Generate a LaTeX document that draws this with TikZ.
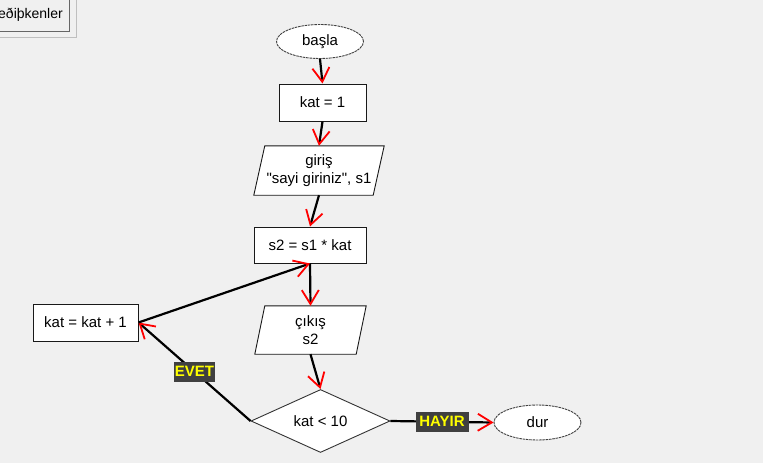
\documentclass[tikz,border=0pt]{standalone}
\usepackage{fontspec}
\setmainfont{Liberation Sans}[Ligatures=TeXOff]
\usetikzlibrary{shapes.geometric,arrows.meta,backgrounds}
\definecolor{pagebg}{HTML}{F0F0F0}
\definecolor{lblbg}{HTML}{404040}
\definecolor{lbltext}{HTML}{FFFF00}
\definecolor{tipred}{HTML}{FF0000}
\newcommand{\nfont}{\fontsize{15}{17.5}\selectfont}
\begin{document}
\begin{tikzpicture}[x=1pt,y=-1pt,
  procbox/.style={draw=black!90, line width=1pt, fill=white, inner sep=0pt, font=\nfont, align=center},
  iotext/.style={inner sep=0pt, font=\nfont, align=center},
  iobox/.style={draw=black!90, line width=0.9pt, fill=white},
  termnode/.style={ellipse, draw=black!75, dash pattern=on 2.5pt off 0.8pt, line width=0.9pt, fill=white, inner sep=0pt, minimum width=87pt, minimum height=34pt, font=\nfont},
  decision/.style={diamond, aspect=2.2, draw=black!80, line width=0.9pt, fill=white, inner sep=0pt, minimum width=139pt, minimum height=63pt, font=\nfont},
  flow/.style={draw=black, line width=2.2pt, -{Straight Barb[length=14pt,width=17pt,line width=1.8pt,color=tipred]}},
  lbl/.style={fill=lblbg, text=lbltext, font=\fontsize{15}{17}\selectfont\bfseries, inner xsep=0.5pt, inner ysep=0pt, minimum height=20pt}
]
\useasboundingbox (0,0) rectangle (763,463);
\begin{scope}[on background layer]
  \fill[pagebg] (0,0) rectangle (763,463);
\end{scope}

% button at top left
\draw[draw=black!25, line width=1pt, fill=pagebg] (-5,-5) rectangle (76,37);
\draw[draw=black!60, line width=1.5pt, fill=pagebg] (-5,-5) rectangle (69.5,31.5);
\node[anchor=east, inner sep=0pt, font=\fontsize{14}{16}\selectfont] (btn) at (63,15) {eðiþkenler};

% nodes
\node[termnode] (basla) at (320,41.5) {başla};
\node[procbox, minimum width=87pt, minimum height=37pt] (kat1) at (322.5,102.5) {kat = 1};
\node[iotext, minimum width=119pt, minimum height=49pt] (giris) at (319,170.5) {giriş\\"sayi giriniz", s1};
\node[procbox, minimum width=112pt, minimum height=36pt] (s2) at (310,245) {s2 = s1 * kat};
\node[iotext, minimum width=101pt, minimum height=48pt] (cikis) at (310.5,330) {çıkış\\s2};
\node[procbox, minimum width=105pt, minimum height=37pt] (inc) at (85.5,322.5) {kat = kat + 1};
\node[decision] (kosul) at (320.5,421) {kat < 10};
\node[termnode, minimum height=35pt] (dur) at (537.5,422.5) {dur};

\begin{scope}[on background layer]
  \draw[iobox] ([xshift=5.5pt]giris.north west) -- ([xshift=5.5pt]giris.north east)
     -- ([xshift=-5.5pt]giris.south east) -- ([xshift=-5.5pt]giris.south west) -- cycle;
  \draw[iobox] ([xshift=5pt]cikis.north west) -- ([xshift=5pt]cikis.north east)
     -- ([xshift=-5pt]cikis.south east) -- ([xshift=-5pt]cikis.south west) -- cycle;
\end{scope}

% connectors
\draw[flow] (basla.south) -- (kat1.north);
\draw[flow] (kat1.south) -- (giris.north);
\draw[flow] (giris.south) -- (s2.north);
\draw[flow] (s2.south) -- (cikis.north);
\draw[flow] (cikis.south) -- (kosul.north);
\draw[flow] (kosul.west) -- node[lbl, minimum width=37pt] (evet) {EVET} (inc.east);
\draw[flow] (inc.east) -- (s2.south);
\draw[flow] (kosul.east) -- node[lbl, minimum width=53pt] (hayir) {HAYIR} (dur.west);
\end{tikzpicture}
\end{document}
